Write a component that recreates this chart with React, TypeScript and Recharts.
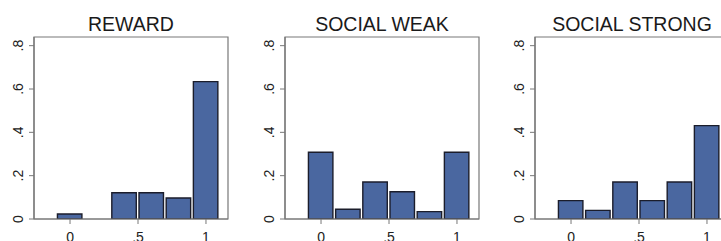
import { BarChart, Bar, XAxis, YAxis, ReferenceArea } from "recharts";

const BIN_CENTERS = [0, 0.2, 0.4, 0.6, 0.8, 1];
const REWARD = [0.023, 0, 0.121, 0.121, 0.097, 0.634];
const SOCIAL_WEAK = [0.308, 0.045, 0.171, 0.126, 0.034, 0.308];
const SOCIAL_STRONG = [0.085, 0.04, 0.171, 0.085, 0.171, 0.431];
const TITLES = ["REWARD", "SOCIAL WEAK", "SOCIAL STRONG"];
const SERIES = [REWARD, SOCIAL_WEAK, SOCIAL_STRONG];
const Y_TICKS = [0, 0.2, 0.4, 0.6, 0.8];
const X_TICKS = [0, 0.5, 1];

const X_DOMAIN: [number, number] = [-0.265, 1.162];
const Y_DOMAIN: [number, number] = [0, 0.84];

const FONT = "'Liberation Sans', Arial, sans-serif";
const FRAME = "#787878";
const BAR_FILL = "#4a67a0";
const BAR_EDGE = "#1b1d2b";

// ".2" style labels, like Stata
const fmt = (v: number) => (v === 0 ? "0" : v === 1 ? "1" : String(v).replace(/^0/, ""));

function YTick({ x, y, payload }: any) {
  return (
    <text
      x={x - 4}
      y={y}
      transform={`rotate(-90, ${x - 4}, ${y})`}
      textAnchor="middle"
      fontSize={14}
      fontFamily={FONT}
      fill="#222"
    >
      {fmt(payload.value)}
    </text>
  );
}

function XTick({ x, y, payload }: any) {
  return (
    <text x={x} y={y} dy={16} textAnchor="middle" fontSize={14} fontFamily={FONT} fill="#222">
      {fmt(payload.value)}
    </text>
  );
}

function Panel({ title, values, left }: { title: string; values: number[]; left: number }) {
  const data = BIN_CENTERS.map((x, i) => ({ x, density: values[i] }));
  return (
    <div style={{ position: "absolute", left, top: 0, width: 250, height: 241 }}>
      <div
        style={{
          position: "absolute",
          left: 34,
          width: 194,
          top: 14,
          textAlign: "center",
          fontFamily: FONT,
          fontSize: 19.5,
          lineHeight: "20px",
          color: "#1a1a1a",
          whiteSpace: "nowrap",
        }}
      >
        {title}
      </div>
      <BarChart
        width={250}
        height={241}
        data={data}
        margin={{ top: 37, right: 22, bottom: 0, left: 0 }}
        barCategoryGap={0}
        barGap={0}
      >
        <XAxis
          dataKey="x"
          type="number"
          domain={X_DOMAIN}
          allowDataOverflow
          ticks={X_TICKS}
          tick={<XTick />}
          tickSize={5}
          height={22}
          axisLine={{ stroke: FRAME, strokeWidth: 1.2 }}
          tickLine={{ stroke: FRAME }}
        />
        <YAxis
          type="number"
          domain={Y_DOMAIN}
          allowDataOverflow
          ticks={Y_TICKS}
          tick={<YTick />}
          tickSize={5}
          width={34}
          axisLine={{ stroke: FRAME, strokeWidth: 1.2 }}
          tickLine={{ stroke: FRAME }}
        />
        <ReferenceArea
          x1={X_DOMAIN[0]}
          x2={X_DOMAIN[1]}
          y1={Y_DOMAIN[0]}
          y2={Y_DOMAIN[1]}
          fill="none"
          fillOpacity={0}
          stroke={FRAME}
          strokeWidth={1.2}
          ifOverflow="visible"
        />
        <Bar
          dataKey="density"
          fill={BAR_FILL}
          stroke={BAR_EDGE}
          strokeWidth={1.4}
          barSize={27.2}
          isAnimationActive={false}
        />
      </BarChart>
    </div>
  );
}

export default function App() {
  return (
    <div
      style={{
        position: "absolute",
        left: 0,
        top: 0,
        width: 721,
        height: 241,
        overflow: "hidden",
        background: "#fff",
      }}
    >
      {SERIES.map((vals, i) => (
        <Panel key={TITLES[i]} title={TITLES[i]} values={vals} left={[0, 251, 501][i]} />
      ))}
    </div>
  );
}
